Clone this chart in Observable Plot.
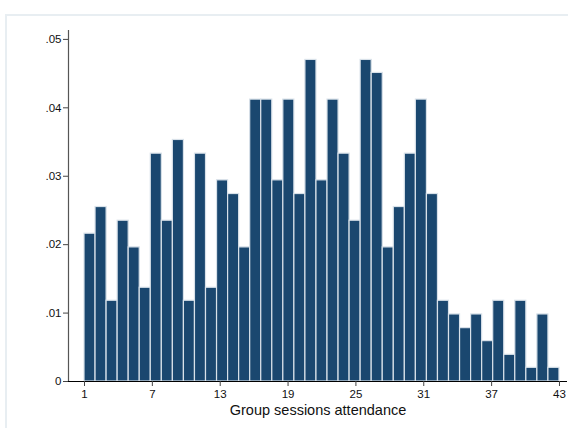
<!DOCTYPE html>
<html><head><meta charset="utf-8">
<script src="https://cdn.jsdelivr.net/npm/d3@7"></script>
<script src="https://cdn.jsdelivr.net/npm/@observablehq/plot@0.6"></script>
<style>
body{margin:0;background:#fff;}
#wrap{position:relative;width:568px;height:428px;overflow:hidden;font-family:"Liberation Sans",Arial,sans-serif;}
#frame{position:absolute;left:5px;top:14px;width:580px;height:430px;border:2px solid #e8eef2;box-sizing:border-box;}
#chart{position:absolute;left:0;top:0;}
</style></head><body>
<div id="wrap"><div id="frame"></div><div id="chart"></div></div>
<script>
const sessions = [1,2,3,4,5,6,7,8,9,10,11,12,13,14,15,16,17,18,19,20,21,22,23,24,25,26,27,28,29,30,31,32,33,34,35,36,37,38,39,40,41,42,43];
const density = [0.0216,0.0255,0.0118,0.0235,0.0196,0.0137,0.0333,0.0235,0.0353,0.0118,
                 0.0333,0.0137,0.0294,0.0274,0.0196,0.0412,0.0412,0.0294,0.0412,0.0274,
                 0.0470,0.0294,0.0412,0.0333,0.0235,0.0470,0.0451,0.0196,0.0255,0.0333,
                 0.0412,0.0274,0.0118,0.0098,0.0078,0.0098,0.0059,0.0118,0.0039,0.0118,
                 0.0020,0.0098,0.0020];
const yTicks = [0, 0.01, 0.02, 0.03, 0.04, 0.05];
const xTicks = [1, 7, 13, 19, 25, 31, 37, 43];
const xTitle = "Group sessions attendance";
const xDomain = [-0.415, 43.71];
const yDomain = [0, 0.0513];

const xmin = d3.min(sessions), xmax = d3.max(sessions);
const binWidth = (xmax - xmin) / sessions.length;
const bars = sessions.map((s, i) => ({x1: xmin + i * binWidth, x2: xmin + (i + 1) * binWidth, y: density[i]}));
const fmt = d => d === 0 ? "0" : d3.format(".2f")(d).replace(/^0/, "");

const chart = Plot.plot({
  width: 568, height: 428,
  marginLeft: 68, marginRight: 1, marginTop: 30, marginBottom: 47,
  style: {background: "transparent", fontFamily: "'Liberation Sans', Arial, sans-serif", fontSize: "11.5px", color: "#111"},
  x: {type: "linear", domain: xDomain},
  y: {domain: yDomain},
  marks: [
    Plot.rectY(bars, {x1: "x1", x2: "x2", y: "y", fill: "#1a476f", stroke: "#d8e1e9", strokeWidth: 1.2}),
    Plot.ruleX([xDomain[0]], {stroke: "#555", strokeWidth: 1.2}),
    Plot.ruleY([0], {stroke: "#000", strokeWidth: 1.2}),
    Plot.axisY({ticks: yTicks, tickFormat: fmt, tickSize: 5, tickPadding: 2, label: null, fontSize: 11.5, stroke: "#444"}),
    Plot.axisX({ticks: xTicks, tickFormat: d => String(d), tickSize: 5, tickPadding: 3, label: null, fontSize: 11.5, stroke: "#444"}),
    Plot.text([xTitle], {frameAnchor: "bottom", dy: 29, lineAnchor: "middle", fontSize: 14.5, fill: "#111"})
  ]
});
document.getElementById("chart").appendChild(chart);
</script>
</body></html>
